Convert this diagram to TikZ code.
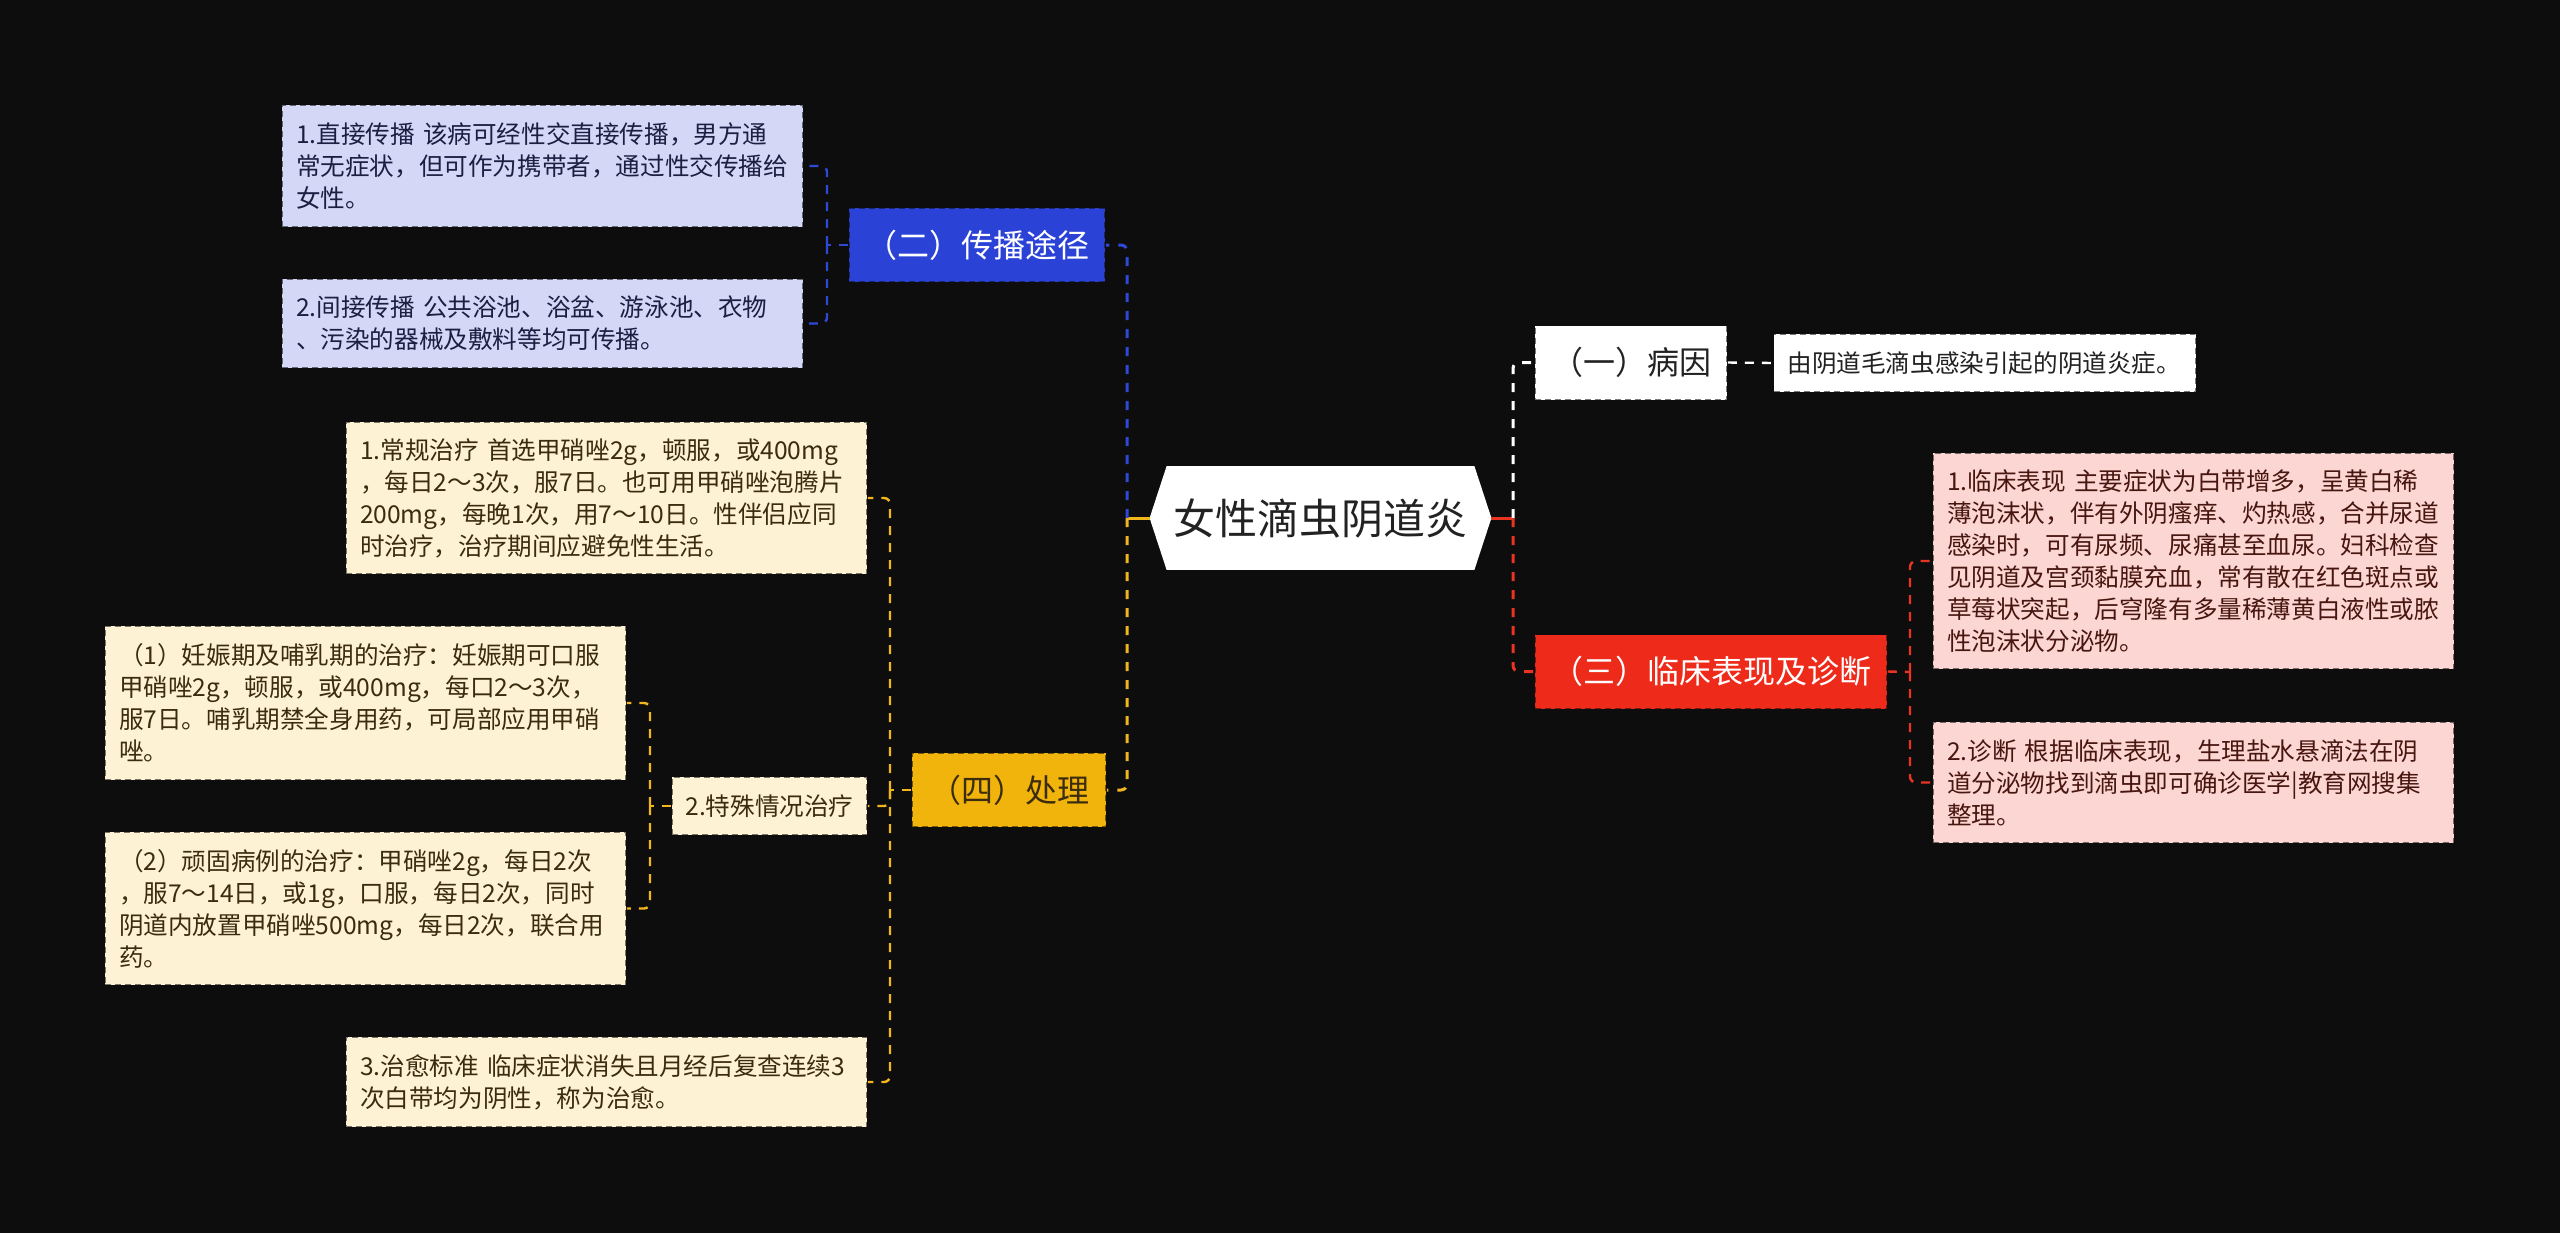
\documentclass[tikz,border=0pt]{standalone}
\usepackage{fontspec}
\setmainfont{Noto Sans CJK SC}
\usetikzlibrary{calc,backgrounds}
\setlength\parindent{0pt}
\definecolor{bgc}{RGB}{13,13,13}
\definecolor{bluef}{RGB}{43,66,214}
\definecolor{redf}{RGB}{238,42,26}
\definecolor{yelf}{RGB}{241,180,12}
\definecolor{lavf}{RGB}{212,216,246}
\definecolor{creamf}{RGB}{253,243,212}
\definecolor{pinkf}{RGB}{252,214,211}
\definecolor{navyt}{RGB}{28,30,66}
\definecolor{brownt}{RGB}{58,44,12}
\definecolor{redt}{RGB}{72,22,16}
\definecolor{darkt}{RGB}{34,34,34}
\definecolor{bluel}{RGB}{46,72,216}
\definecolor{redl}{RGB}{232,52,32}
\definecolor{yell}{RGB}{241,182,30}
\begin{document}
\begin{tikzpicture}[x=0.5pt,y=-0.5pt,
  bx/.style={rectangle, inner sep=0pt, draw=bgc, draw opacity=0.55, line width=0.8pt, dash pattern=on 3pt off 2pt},
  leaf/.style={bx, align=left, inner xsep=7pt, font=\fontsize{12.3}{16}\selectfont, text width=246.5pt},
  lav/.style={leaf, fill=lavf, text=navyt},
  cream/.style={leaf, fill=creamf, text=brownt},
  pink/.style={leaf, fill=pinkf, text=redt},
  topic/.style={bx, font=\fontsize{16}{20}\selectfont, minimum height=37pt, align=center},
  conn/.style={line width=1.5pt, dash pattern=on 4.5pt off 4.5pt, rounded corners=3pt},
  bconn/.style={line width=1.2pt, dash pattern=on 4.5pt off 4pt, rounded corners=3pt},
  stub/.style={line width=1.5pt},
]
\useasboundingbox (0,0) rectangle (2560,1233);

% root
\node[font=\fontsize{21}{25}\selectfont, text=darkt, minimum width=170.5pt, minimum height=51.5pt, inner sep=0pt] (root) at (1320.5,518) {女性滴虫阴道炎};

% left side
\node[lav, minimum height=61pt] (l1) at (542.5,166) {1.直接传播~该病可经性交直接传播，男方通\\常无症状，但可作为携带者，通过性交传播给\\女性。};
\node[lav, minimum height=44.5pt] (l2) at (542.5,323.5) {2.间接传播~公共浴池、浴盆、游泳池、衣物\\、污染的器械及敷料等均可传播。};
\node[topic, fill=bluef, text=white, minimum width=128pt] (b) at (977,245) {（二）传播途径};

\node[topic, fill=yelf, text=brownt, minimum width=97pt] (y) at (1009,790) {（四）处理};
\node[cream, minimum height=76pt] (c1) at (606.5,498) {1.常规治疗~首选甲硝唑2g，顿服，或400mg\\，每日2～3次，服7日。也可用甲硝唑泡腾片\\200mg，每晚1次，用7～10日。性伴侣应同\\时治疗，治疗期间应避免性生活。};
\node[bx, fill=creamf, text=brownt, font=\fontsize{12.3}{16}\selectfont, minimum width=97.5pt, minimum height=29pt] (s) at (769.5,806) {2.特殊情况治疗};
\node[cream, minimum height=45pt] (c3) at (606.5,1082) {3.治愈标准~临床症状消失且月经后复查连续3\\次白带均为阴性，称为治愈。};
\node[cream, minimum height=77pt] (s1) at (365.5,703) {（1）妊娠期及哺乳期的治疗：妊娠期可口服\\甲硝唑2g，顿服，或400mg，每口2～3次，\\服7日。哺乳期禁全身用药，可局部应用甲硝\\唑。};
\node[cream, minimum height=76.5pt] (s2) at (365.5,908.5) {（2）顽固病例的治疗：甲硝唑2g，每日2次\\，服7～14日，或1g，口服，每日2次，同时\\阴道内放置甲硝唑500mg，每日2次，联合用\\药。};

% right side
\node[topic, fill=white, text=darkt, minimum width=96pt] (w1) at (1631,362.5) {（一）病因};
\node[leaf, fill=white, text=darkt, text width=197pt, minimum height=29pt] (wl) at (1984.5,363) {由阴道毛滴虫感染引起的阴道炎症。};
\node[topic, fill=redf, text=white, minimum width=176pt] (r) at (1711,671.5) {（三）临床表现及诊断};
\node[pink, minimum height=108pt] (p1) at (2193.5,561) {1.临床表现~主要症状为白带增多，呈黄白稀\\薄泡沫状，伴有外阴瘙痒、灼热感，合并尿道\\感染时，可有尿频、尿痛甚至血尿。妇科检查\\见阴道及宫颈黏膜充血，常有散在红色斑点或\\草莓状突起，后穹隆有多量稀薄黄白液性或脓\\性泡沫状分泌物。};
\node[pink, minimum height=60.5pt] (p2) at (2193.5,782.5) {2.诊断~根据临床表现，生理盐水悬滴法在阴\\道分泌物找到滴虫即可确诊医学|教育网搜集\\整理。};

\begin{scope}[on background layer]
  \fill[bgc] (0,0) rectangle (2560,1233);
  \fill[white] (root.west) -- ([xshift=8.5pt]root.north west) -- ([xshift=-8.5pt]root.north east)
    -- (root.east) -- ([xshift=-8.5pt]root.south east) -- ([xshift=8.5pt]root.south west) -- cycle;
\end{scope}

% junction coordinates
\coordinate (lt) at (1127,518);
\coordinate (rt) at (1513,518);
\coordinate (bb) at (827,245);
\coordinate (yb) at (890,790);
\coordinate (sb) at (650,806);
\coordinate (rb) at (1910,672);

% main trunks
\draw[stub, yell] (root.west) -- (lt);
\draw[conn, bluel] (lt) |- (b.east);
\draw[conn, yell] (lt) |- (y.east);
\draw[stub, redl] (root.east) -- (rt);
\draw[conn, white] (rt) |- (w1.west);
\draw[conn, redl] (rt) |- (r.west);

% branches
\draw[bconn, white] (w1.east) -- (wl.west);
\draw[bconn, redl] (r.east) -- (rb);
\draw[bconn, redl] (rb) |- (p1.west);
\draw[bconn, redl] (rb) |- (p2.west);
\draw[bconn, bluel] (b.west) -- (bb);
\draw[bconn, bluel] (bb) |- (l1.east);
\draw[bconn, bluel] (bb) |- (l2.east);
\draw[bconn, yell] (y.west) -- (yb);
\draw[bconn, yell] (yb) |- (c1.east);
\draw[bconn, yell] (yb) |- (s.east);
\draw[bconn, yell] (yb) |- (c3.east);
\draw[bconn, yell] (s.west) -- (sb);
\draw[bconn, yell] (sb) |- (s1.east);
\draw[bconn, yell] (sb) |- (s2.east);
\end{tikzpicture}
\end{document}
